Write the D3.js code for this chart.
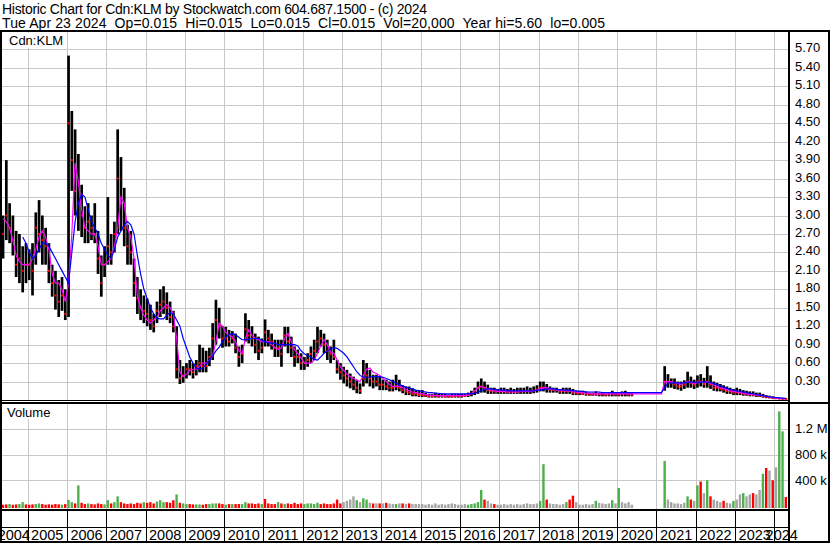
<!DOCTYPE html>
<html><head><meta charset="utf-8">
<script src="https://cdn.jsdelivr.net/npm/d3@7"></script>
<style>
body{margin:0;background:#fff}
svg{display:block}
text{font-family:"Liberation Sans",Arial,sans-serif;fill:#000}
</style>
</head><body>
<svg id="c" width="830" height="543"></svg>
<script>
// ---------------- DATA (monthly, May 2004 .. Apr 2024) ----------------
const firstYear = 2004, firstMonth = 5;
const yearLabels = [2004,2005,2006,2007,2008,2009,2010,2011,2012,2013,2014,2015,2016,2017,2018,2019,2020,2021,2022,2023,2024];
const priceTicks = [0.30,0.60,0.90,1.20,1.50,1.80,2.10,2.40,2.70,3.00,3.30,3.60,3.90,4.20,4.50,4.80,5.10,5.40,5.70];
const volTicks = [400,800,1200];            // thousands
const volTickLabels = ["400 k","800 k","1.2 M"];
const titleLine1 = "Historic Chart for Cdn:KLM by Stockwatch.com 604.687.1500 - (c) 2024";
const titleLine2 = "Tue Apr 23 2024  Op=0.015  Hi=0.015  Lo=0.015  Cl=0.015  Vol=20,000  Year hi=5.60  lo=0.005";

const high = [
 3.0,3.9,3.2,3.0,2.75,2.7,2.5,2.55,
 2.45,2.55,3.05,3.25,3.0,2.8,2.55,2.2,2.1,1.95,2.0,1.8,
 5.6,4.7,4.4,4.0,3.5,3.15,3.2,3.0,3.2,2.75,2.35,2.5,
 3.3,2.7,2.9,4.4,3.95,3.45,2.85,2.75,2.3,2.0,1.8,1.7,
 1.65,1.55,1.4,1.6,1.8,1.85,1.75,1.6,1.45,1.2,0.65,0.55,
 0.6,0.65,0.6,0.65,0.9,0.85,0.8,0.85,1.25,1.63,1.5,1.2,
 1.19,1.14,1.12,1.08,0.87,0.9,1.41,1.3,1.2,1.08,1.03,1.0,
 1.31,1.14,1.08,0.98,0.98,0.98,1.19,1.19,1.03,0.87,0.82,0.76,
 0.7,0.76,0.87,0.98,1.19,1.14,1.08,0.98,0.87,0.98,0.65,0.6,
 0.54,0.49,0.43,0.38,0.33,0.27,0.65,0.6,0.49,0.41,0.41,0.38,
 0.33,0.33,0.3,0.33,0.41,0.33,0.24,0.22,0.22,0.19,0.16,0.16,
 0.16,0.12,0.1,0.1,0.12,0.1,0.1,0.1,0.09,0.1,0.1,0.1,
 0.1,0.1,0.12,0.15,0.2,0.3,0.35,0.3,0.25,0.2,0.2,0.18,
 0.2,0.2,0.18,0.2,0.18,0.2,0.2,0.2,0.22,0.2,0.22,0.24,
 0.3,0.3,0.26,0.22,0.2,0.2,0.18,0.2,0.2,0.2,0.18,0.15,
 0.15,0.15,0.14,0.12,0.12,0.14,0.12,0.12,0.1,0.12,0.15,0.12,
 0.12,0.14,0.15,0.12,0.12,null,null,null,null,null,null,null,
 null,null,0.55,0.42,0.35,0.35,0.3,0.3,0.32,0.46,0.38,0.33,
 0.4,0.42,0.36,0.55,0.4,0.3,0.28,0.26,0.24,0.22,0.2,0.18,
 0.2,0.18,0.16,0.15,0.14,0.14,0.12,0.12,0.1,0.08,0.07,0.06,
 0.05,0.04,0.03,0.03
];
const low = [
 2.3,2.6,2.55,2.35,2.0,1.9,1.75,1.9,
 1.95,1.7,2.2,2.4,2.2,2.2,1.9,1.68,1.47,1.35,1.45,1.3,
 1.35,3.4,3.0,2.75,2.65,2.55,2.55,2.6,2.55,2.05,1.68,2.0,
 2.2,2.2,2.4,2.7,2.75,2.5,2.2,2.2,1.68,1.4,1.3,1.25,
 1.2,1.14,1.1,1.25,1.35,1.4,1.3,1.25,1.1,0.35,0.26,0.28,
 0.35,0.4,0.35,0.4,0.45,0.45,0.45,0.55,0.65,0.9,1.0,0.85,
 0.87,0.87,0.92,0.76,0.54,0.6,0.95,0.92,0.87,0.76,0.65,0.76,
 0.87,0.87,0.82,0.7,0.7,0.54,0.87,0.76,0.7,0.54,0.6,0.49,
 0.49,0.54,0.6,0.65,0.76,0.87,0.76,0.65,0.6,0.65,0.43,0.33,
 0.27,0.22,0.19,0.16,0.11,0.1,0.22,0.27,0.22,0.19,0.22,0.16,
 0.16,0.16,0.14,0.14,0.16,0.14,0.11,0.08,0.08,0.06,0.06,0.05,
 0.05,0.05,0.04,0.04,0.04,0.04,0.04,0.04,0.04,0.04,0.04,0.04,
 0.04,0.05,0.05,0.06,0.08,0.1,0.12,0.12,0.1,0.1,0.1,0.1,
 0.1,0.1,0.1,0.1,0.1,0.1,0.1,0.1,0.1,0.1,0.11,0.12,
 0.14,0.14,0.12,0.12,0.12,0.12,0.1,0.1,0.1,0.1,0.08,0.08,
 0.08,0.08,0.07,0.07,0.07,0.07,0.06,0.06,0.06,0.06,0.06,0.06,
 0.06,0.06,0.06,0.06,0.06,null,null,null,null,null,null,null,
 null,null,0.15,0.2,0.2,0.18,0.17,0.15,0.18,0.2,0.2,0.18,
 0.2,0.22,0.2,0.2,0.18,0.15,0.14,0.14,0.12,0.1,0.1,0.08,
 0.08,0.08,0.07,0.07,0.06,0.06,0.05,0.05,0.04,0.03,0.03,0.02,
 0.015,0.015,0.01,0.01
];
const close = [
 2.7,3.0,2.8,2.6,2.2,2.3,2.1,2.2,
 2.2,2.1,2.8,2.7,2.6,2.5,2.1,1.9,1.7,1.6,1.7,1.4,
 4.5,3.9,3.4,3.2,3.0,2.8,2.9,2.8,2.7,2.3,1.9,2.2,
 2.5,2.4,2.7,3.6,3.2,2.8,2.5,2.4,1.9,1.65,1.5,1.45,
 1.4,1.3,1.2,1.45,1.55,1.6,1.5,1.35,1.2,0.5,0.35,0.4,
 0.5,0.5,0.45,0.55,0.6,0.55,0.55,0.7,1.0,1.3,1.2,1.0,
 1.0,0.95,1.0,0.85,0.7,0.75,1.15,1.05,1.0,0.9,0.8,0.85,
 1.1,1.0,0.95,0.85,0.85,0.75,1.05,0.95,0.85,0.7,0.7,0.6,
 0.6,0.65,0.75,0.8,0.95,1.0,0.9,0.8,0.75,0.7,0.5,0.45,
 0.4,0.35,0.3,0.25,0.2,0.15,0.35,0.4,0.35,0.3,0.3,0.25,
 0.25,0.22,0.2,0.2,0.22,0.2,0.16,0.14,0.12,0.1,0.1,0.08,
 0.08,0.07,0.06,0.06,0.07,0.06,0.06,0.06,0.05,0.06,0.06,0.06,
 0.06,0.07,0.08,0.1,0.15,0.2,0.22,0.2,0.16,0.15,0.14,0.14,
 0.14,0.14,0.13,0.14,0.13,0.13,0.14,0.14,0.15,0.14,0.15,0.17,
 0.2,0.2,0.18,0.17,0.16,0.16,0.14,0.15,0.15,0.15,0.12,0.11,
 0.11,0.1,0.1,0.09,0.09,0.1,0.09,0.09,0.08,0.09,0.1,0.09,
 0.09,0.1,0.1,0.09,0.09,null,null,null,null,null,null,null,
 null,null,0.3,0.3,0.28,0.25,0.22,0.22,0.25,0.3,0.28,0.25,
 0.3,0.3,0.26,0.3,0.25,0.2,0.2,0.18,0.17,0.15,0.14,0.12,
 0.12,0.12,0.1,0.1,0.09,0.08,0.08,0.07,0.06,0.05,0.04,0.03,
 0.03,0.02,0.02,0.015
];
const maFast = [
 2.95,2.9,2.8,2.6,2.35,2.25,2.2,2.2,
 2.2,2.3,2.45,2.65,2.75,2.65,2.45,2.05,1.9,1.9,1.8,1.6,
 1.9,2.7,3.85,3.55,3.1,2.8,2.75,2.7,2.7,2.5,2.2,2.2,
 2.25,2.3,2.5,2.8,3.3,3.2,2.8,2.65,2.3,1.7,1.5,1.38,
 1.3,1.25,1.3,1.35,1.45,1.5,1.55,1.5,1.4,1.0,0.45,0.38,
 0.42,0.48,0.5,0.5,0.55,0.6,0.6,0.65,0.72,0.95,1.25,1.2,
 1.1,1.05,1.03,0.95,0.8,0.76,1.0,1.14,1.05,1.0,0.98,0.95,
 0.95,0.95,0.9,0.85,0.82,0.85,1.0,1.08,0.95,0.82,0.76,0.68,
 0.6,0.6,0.6,0.65,0.76,0.88,0.98,0.9,0.78,0.76,0.65,0.54,
 0.48,0.42,0.38,0.35,0.32,0.3,0.4,0.5,0.52,0.45,0.43,0.4,
 0.35,0.3,0.25,0.22,0.22,0.22,0.2,0.17,0.15,0.13,0.12,0.11,
 0.1,0.09,0.08,0.08,0.07,0.07,0.07,0.07,0.07,0.07,0.07,0.07,
 0.07,0.07,0.08,0.1,0.15,0.2,0.22,0.2,0.18,0.16,0.15,0.14,
 0.14,0.14,0.13,0.13,0.13,0.13,0.14,0.14,0.14,0.14,0.15,0.16,
 0.18,0.2,0.2,0.18,0.17,0.16,0.16,0.15,0.15,0.15,0.14,0.13,
 0.12,0.12,0.11,0.11,0.1,0.1,0.1,0.1,0.1,0.1,0.1,0.1,
 0.1,0.1,0.1,0.1,0.1,0.1,0.1,0.1,0.1,0.1,0.1,0.1,
 0.1,0.1,0.3,0.3,0.3,0.28,0.27,0.25,0.28,0.3,0.28,0.27,
 0.28,0.3,0.28,0.3,0.27,0.24,0.22,0.2,0.18,0.17,0.15,0.14,
 0.13,0.12,0.11,0.1,0.09,0.09,0.08,0.08,0.07,0.06,0.05,0.04,
 0.03,0.025,0.02,0.015
];
const maSlow = [
 null,null,null,null,null,null,2.65,2.55,
 2.4,2.3,2.35,2.45,2.55,2.55,2.5,2.4,2.3,2.2,2.1,2.0,
 1.9,2.4,2.9,3.2,3.35,3.3,3.1,2.9,2.8,2.7,2.55,2.45,
 2.35,2.3,2.45,2.65,2.75,2.85,2.9,2.85,2.7,2.35,2.05,1.8,
 1.65,1.5,1.4,1.33,1.32,1.32,1.38,1.42,1.4,1.3,1.2,1.0,
 0.85,0.7,0.6,0.52,0.5,0.52,0.58,0.65,0.72,0.8,0.86,0.95,
 1.02,1.06,1.08,1.06,1.02,0.98,0.98,0.99,1.0,1.0,1.0,0.97,
 0.95,0.93,0.93,0.92,0.9,0.9,0.9,0.9,0.9,0.9,0.88,0.8,
 0.75,0.72,0.7,0.66,0.65,0.7,0.76,0.8,0.83,0.85,0.84,0.8,
 0.76,0.7,0.62,0.54,0.46,0.4,0.37,0.37,0.37,0.38,0.38,0.38,
 0.37,0.35,0.33,0.3,0.27,0.25,0.23,0.21,0.19,0.18,0.16,0.15,
 0.14,0.13,0.12,0.12,0.11,0.11,0.1,0.1,0.1,0.1,0.1,0.1,
 0.1,0.1,0.1,0.1,0.11,0.13,0.15,0.17,0.18,0.18,0.17,0.17,
 0.16,0.16,0.15,0.15,0.15,0.15,0.15,0.15,0.15,0.15,0.15,0.16,
 0.16,0.17,0.18,0.18,0.18,0.17,0.17,0.16,0.16,0.16,0.15,0.15,
 0.14,0.14,0.13,0.13,0.13,0.13,0.13,0.12,0.12,0.12,0.12,0.12,
 0.12,0.12,0.12,0.12,0.12,0.12,0.12,0.12,0.12,0.12,0.12,0.12,
 0.12,0.12,0.2,0.27,0.28,0.28,0.28,0.28,0.28,0.29,0.29,0.29,
 0.29,0.29,0.29,0.29,0.28,0.27,0.25,0.23,0.21,0.19,0.17,0.16,
 0.15,0.14,0.13,0.12,0.11,0.1,0.09,0.08,0.07,0.06,0.05,0.045,
 0.04,0.035,0.03,0.025
];
const volume = [   // thousands of shares
 20,25,30,20,25,30,60,25,
 20,25,30,40,30,20,25,20,30,25,20,30,
 95,60,40,320,50,30,40,30,25,40,30,25,
 90,40,60,150,60,40,30,40,30,50,40,60,
 50,60,40,70,90,60,60,50,90,180,50,40,
 30,30,25,25,25,20,30,30,40,40,40,30,
 20,30,30,30,30,30,60,40,40,30,40,30,
 110,40,30,30,60,40,30,40,30,50,30,40,
 30,40,40,30,50,30,40,30,30,40,100,40,
 60,80,100,150,90,60,120,100,50,40,40,40,
 40,50,40,30,30,40,40,30,40,30,30,30,
 30,20,30,20,40,20,30,20,30,40,30,20,
 20,30,20,30,40,60,250,100,80,40,30,20,
 20,30,20,30,20,30,20,30,40,30,30,40,
 80,650,100,40,30,30,20,30,60,100,160,60,
 20,20,30,20,30,80,50,40,30,40,90,40,
 280,60,40,60,20,null,null,null,null,null,null,null,
 null,null,700,100,60,40,40,30,50,150,100,80,
 320,380,200,400,150,100,80,60,80,50,40,80,
 100,180,200,150,180,200,180,250,500,590,550,400,
 600,1470,1160,140
];
const volDir = [  // u = up (green), d = down (red), n = unchanged (grey)
 "d","d","u","d","d","u","u","d",
 "d","d","u","u","d","d","d","d","d","d","u","d",
 "u","u","d","u","d","d","u","d","d","d","d","u",
 "u","d","u","u","d","d","d","d","d","d","d","u",
 "d","d","d","u","u","u","d","d","d","u","d","u",
 "u","d","d","u","u","d","d","u","u","u","d","d",
 "u","d","u","d","d","u","u","d","d","d","d","u",
 "d","d","d","d","u","d","u","d","d","d","d","d",
 "u","u","u","u","u","d","d","d","d","d","d","d",
 "n","n","n","n","u","n","u","u","n","d","n","d",
 "n","d","n","n","u","n","d","n","d","n","n","n",
 "n","n","n","n","n","n","n","n","n","n","n","n",
 "n","n","u","u","u","u","u","d","n","n","d","n",
 "n","n","n","n","n","n","n","n","n","n","n","n",
 "u","u","d","n","n","n","n","n","u","d","d","n",
 "n","n","n","n","n","u","n","n","n","n","u","n",
 "u","n","n","n","n","n","n","n","n","n","n","n",
 "n","n","u","n","n","n","n","n","n","u","d","n",
 "u","d","n","u","d","n","n","n","d","n","n","u",
 "n","n","u","n","n","d","n","n","u","d","n","d",
 "n","u","u","d"
];

// ---------------- LAYOUT ----------------
const svg = d3.select("#c");
const plotL = 2, plotR = 789;
const priceTop = 31, priceBot = 400;
const volTop = 403, volBot = 509;
const x = d3.scaleLinear().domain([2005, 2024]).range([27.6, 774.4]);
const yP = d3.scaleLinear().domain([0, 6]).range([priceBot, priceTop]);
const yV = d3.scaleLinear().domain([0, 1600]).range([506, volTop]);
const monthStart = i => firstYear + (firstMonth - 1 + i) / 12;
const monthMid = i => monthStart(i) + 1 / 24;
const idx = d3.range(high.length);
const GRID = "#c8c8c8";

svg.append("rect").attr("width", 830).attr("height", 543).attr("fill", "#fff");

// title
svg.append("text").attr("x", 2).attr("y", 14).style("font-size", "14px")
  .attr("textLength", 425).attr("lengthAdjust", "spacing").text(titleLine1);
svg.append("text").attr("x", 2).attr("y", 28).style("font-size", "14px").style("white-space", "pre")
  .attr("textLength", 603).attr("lengthAdjust", "spacing").text(titleLine2);

// grid: vertical year lines
const yb = d3.range(2005, 2025);
const grid = svg.append("g").attr("stroke", GRID).attr("stroke-width", 1).attr("shape-rendering", "crispEdges");
grid.selectAll(".vp").data(yb).join("line")
  .attr("x1", d => Math.round(x(d)) + 0.5).attr("x2", d => Math.round(x(d)) + 0.5)
  .attr("y1", priceTop).attr("y2", priceBot);
grid.selectAll(".vv").data(yb).join("line")
  .attr("x1", d => Math.round(x(d)) + 0.5).attr("x2", d => Math.round(x(d)) + 0.5)
  .attr("y1", volTop).attr("y2", volBot);
grid.selectAll(".hp").data(priceTicks).join("line")
  .attr("x1", plotL).attr("x2", plotR)
  .attr("y1", d => Math.round(yP(d)) + 0.5).attr("y2", d => Math.round(yP(d)) + 0.5);
grid.selectAll(".hv").data(volTicks).join("line")
  .attr("x1", plotL).attr("x2", plotR)
  .attr("y1", d => Math.round(yV(d)) + 0.5).attr("y2", d => Math.round(yV(d)) + 0.5);

// price panel labels box
svg.append("rect").attr("x", 2).attr("y", 33).attr("width", 63).attr("height", 15).attr("fill", "#fff");
svg.append("text").attr("x", 9).attr("y", 45).style("font-size", "13px").text("Cdn:KLM");
svg.append("rect").attr("x", 2).attr("y", 404).attr("width", 56).attr("height", 15).attr("fill", "#fff");
svg.append("text").attr("x", 7).attr("y", 417).style("font-size", "13px").text("Volume");

// clip
svg.append("clipPath").attr("id", "pclip").append("rect")
  .attr("x", plotL).attr("y", priceTop).attr("width", plotR - plotL).attr("height", priceBot - priceTop);
const pg = svg.append("g").attr("clip-path", "url(#pclip)");

// OHLC bars
pg.append("g").selectAll("rect").data(idx.filter(i => high[i] != null)).join("rect")
  .attr("x", i => x(monthStart(i)) + 0.3)
  .attr("width", 2.7)
  .attr("y", i => yP(high[i]))
  .attr("height", i => Math.max(1, yP(low[i]) - yP(high[i])))
  .attr("fill", "#000");
// close marks
pg.append("g").selectAll("rect").data(idx.filter(i => close[i] != null)).join("rect")
  .attr("x", i => x(monthMid(i)) - 1)
  .attr("width", 2).attr("height", 2)
  .attr("y", i => yP(close[i]) - 1)
  .attr("fill", "#ff0000");

// moving averages
const lineF = d3.line().defined(i => maFast[i] != null).x(i => x(monthMid(i))).y(i => yP(maFast[i]));
const lineS = d3.line().defined(i => maSlow[i] != null).x(i => x(monthMid(i))).y(i => yP(maSlow[i]));
pg.append("path").attr("d", lineF(idx)).attr("fill", "none").attr("stroke", "#ff00ff").attr("stroke-width", 1.2);
pg.append("path").attr("d", lineS(idx)).attr("fill", "none").attr("stroke", "#0000ff").attr("stroke-width", 1.2);

// volume bars
const vcol = {u: "#4cb04c", d: "#ff0000", n: "#a4a4a4"};
svg.append("g").selectAll("rect").data(idx.filter(i => volume[i] != null)).join("rect")
  .attr("x", i => x(monthStart(i)) + 0.4)
  .attr("width", 2.4)
  .attr("y", i => Math.min(507, yV(volume[i])))
  .attr("height", i => 508 - Math.min(507, yV(volume[i])))
  .attr("fill", i => vcol[volDir[i]]);

// right axis labels
svg.append("g").selectAll("text").data(priceTicks).join("text")
  .attr("x", 795).attr("y", d => yP(d) + 3)
  .style("font-size", "13px").text(d => d.toFixed(2));
svg.append("g").selectAll("text").data(volTicks).join("text")
  .attr("x", 795).attr("y", d => yV(d) + 4.5)
  .style("font-size", "13px").text((d, i) => volTickLabels[i]);

// year strip
const fr = svg.append("g").attr("stroke", "#000").attr("shape-rendering", "crispEdges");
fr.selectAll(".ys").data(yb).join("line")
  .attr("x1", d => Math.round(x(d)) + 0.5).attr("x2", d => Math.round(x(d)) + 0.5)
  .attr("y1", volBot).attr("y2", 541).attr("stroke-width", 1);
fr.append("line").attr("x1", 0).attr("x2", plotR).attr("y1", 527).attr("y2", 527).attr("stroke-width", 1);
svg.append("g").selectAll("text").data(yearLabels).join("text")
  .attr("x", d => (Math.max(0, x(d)) + Math.min(plotR, x(d + 1))) / 2)
  .attr("y", 540).attr("text-anchor", "middle")
  .style("font-size", "14.5px").text(d => d);

// frame lines
fr.append("line").attr("x1", 0).attr("x2", 830).attr("y1", 31).attr("y2", 31).attr("stroke-width", 2);
fr.append("line").attr("x1", 0).attr("x2", 789).attr("y1", 400.5).attr("y2", 400.5).attr("stroke-width", 1);
fr.append("line").attr("x1", 0).attr("x2", 830).attr("y1", 403).attr("y2", 403).attr("stroke-width", 2);
fr.append("line").attr("x1", 0).attr("x2", 789).attr("y1", 509.5).attr("y2", 509.5).attr("stroke-width", 2);
fr.append("line").attr("x1", 0).attr("x2", 830).attr("y1", 542).attr("y2", 542).attr("stroke-width", 2);
fr.append("line").attr("x1", 1).attr("x2", 1).attr("y1", 31).attr("y2", 543).attr("stroke-width", 2);
fr.append("line").attr("x1", 789).attr("x2", 789).attr("y1", 31).attr("y2", 543).attr("stroke-width", 2);
fr.append("line").attr("x1", 829).attr("x2", 829).attr("y1", 31).attr("y2", 543).attr("stroke-width", 2);
</script>
</body></html>
